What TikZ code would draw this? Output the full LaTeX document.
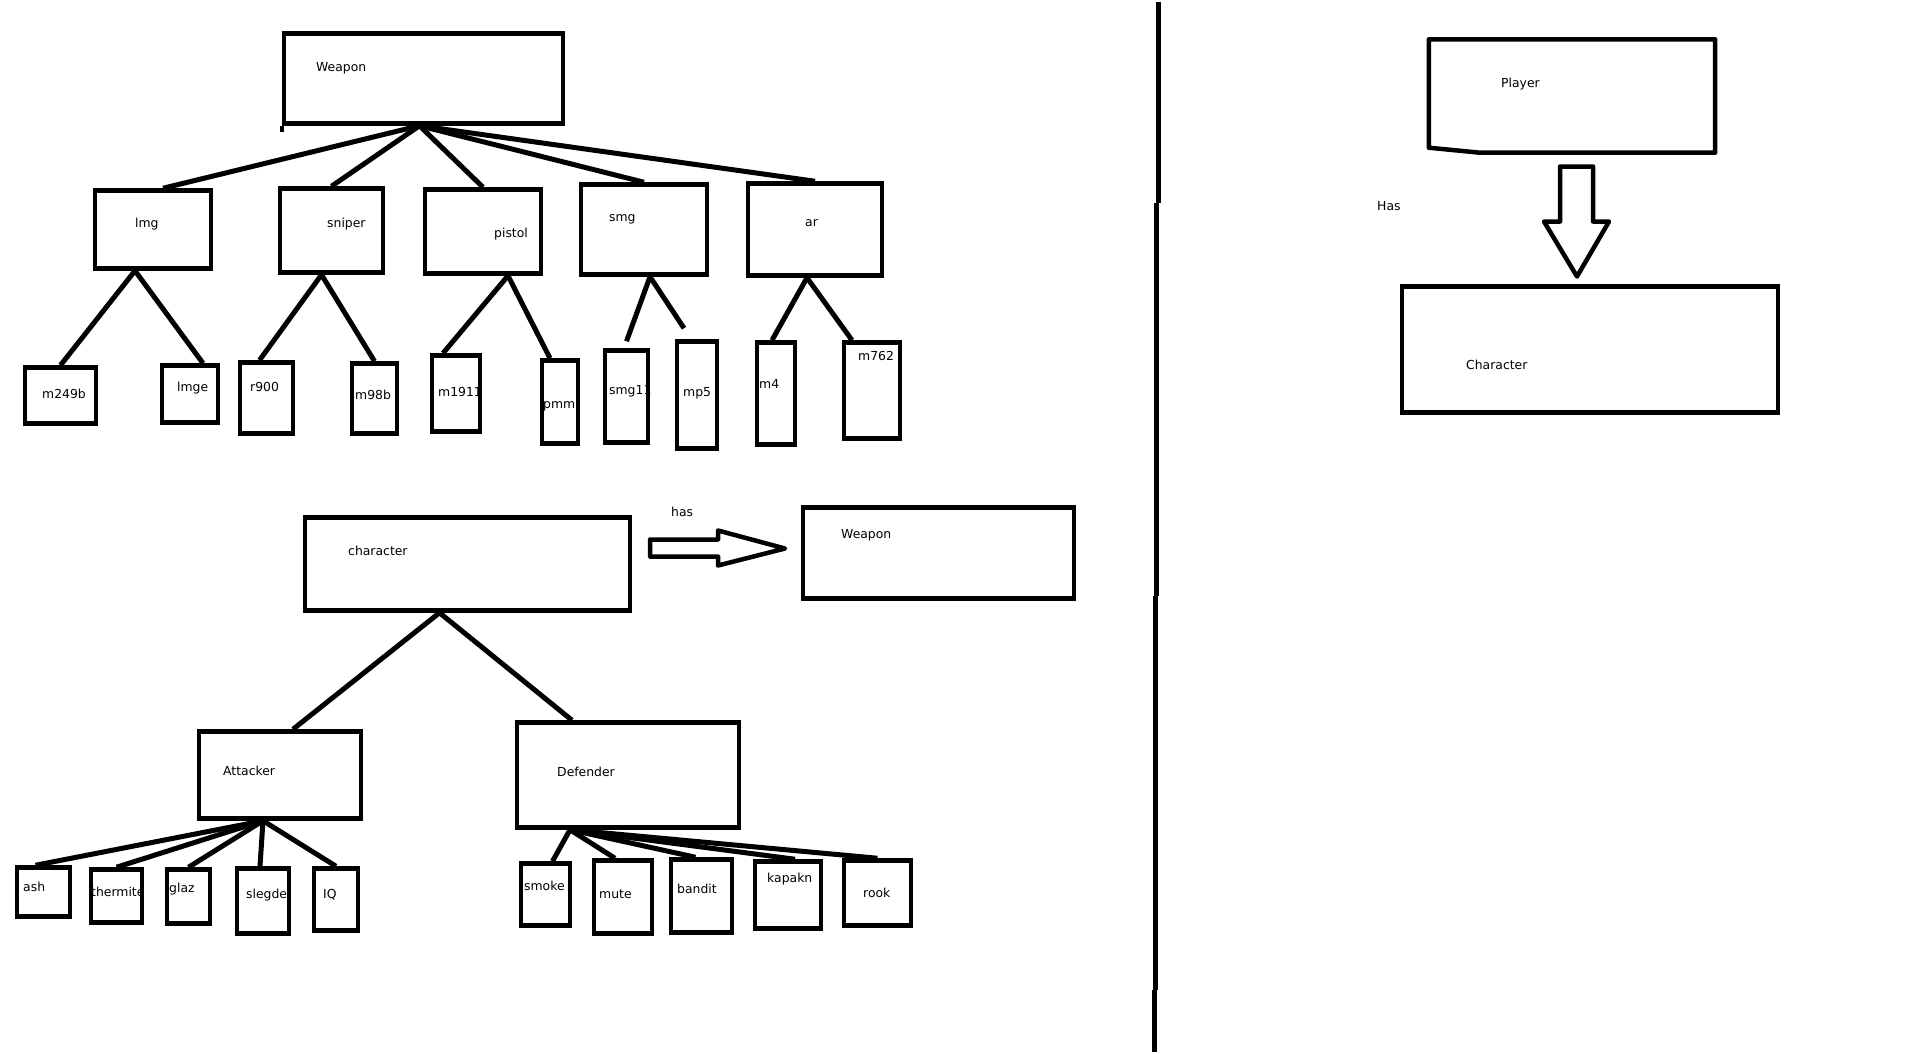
\documentclass[tikz,border=0pt]{standalone}
\usepackage{fontspec}
\setmainfont{DejaVu Sans}

\begin{document}
\begin{tikzpicture}[x=1pt, y=-1pt,
  box/.style={draw, line width=4.5pt, inner sep=0pt},
  link/.style={line width=5pt},
  bigarrow/.style={line width=4.5pt, line join=round},
  lbl/.style={anchor=west, inner sep=0pt, font=\fontsize{12.4}{14}\selectfont}]
% Page
\fill[white] (0,0) rectangle (1914,1049);
% Draw weapon tree boxes
\node[box, minimum width=279, minimum height=90] (weapon) at (423.5,76) {};
\node[box, minimum width=116, minimum height=78] (lmg) at (153,227) {};
\node[box, minimum width=103, minimum height=84] (sniper) at (331.5,228) {};
\node[box, minimum width=116, minimum height=84] (pistol) at (483,229) {};
\node[box, minimum width=126, minimum height=90] (smg) at (644,227) {};
\node[box, minimum width=134, minimum height=92] (ar) at (815,227) {};
\node[box, minimum width=71, minimum height=56] (m249b) at (60.5,393) {};
\node[box, minimum width=56, minimum height=57] (lmge) at (190,391.5) {};
\node[box, minimum width=53, minimum height=71] (r900) at (266.5,395.5) {};
\node[box, minimum width=45, minimum height=70] (m98b) at (374.5,396) {};
\node[box, minimum width=48, minimum height=76] (m1911) at (456,391) {};
\node[box, minimum width=36, minimum height=83] (pmm) at (560,399.5) {};
\node[box, minimum width=43, minimum height=92] (smg11) at (626.5,394) {};
\node[box, minimum width=40, minimum height=107] (mp5) at (697,392.5) {};
\node[box, minimum width=38, minimum height=102] (m4) at (776,391) {};
\node[box, minimum width=56, minimum height=96] (m762) at (872,388) {};
\draw[line width=4.5pt] (weapon.south west) -- ++(0,6);
% Draw weapon tree labels
\node[lbl] (weaponlbl) at (316,66) {Weapon};
\node[lbl] (lmglbl) at (135,222) {lmg};
\node[lbl] (sniperlbl) at (327,222) {sniper};
\node[lbl] (pistollbl) at (494,232) {pistol};
\node[lbl] (smglbl) at (609,217) {smg};
\node[lbl] (arlbl) at (805,221) {ar};
\node[lbl] (m249blbl) at (42,391) {m249b};
\node[lbl] (lmgelbl) at (177,386) {lmge};
\node[lbl] (r900lbl) at (250,384) {r900};
\node[lbl] (m98blbl) at (355,392) {m98b};
\node[lbl] (m1911lbl) at (438,389) {m1911};
\node[lbl] (pmmlbl) at (543,404) {pmm};
\node[lbl] (smg11lbl) at (609,389) {smg11};
\node[lbl] (mp5lbl) at (683,391) {mp5};
\node[lbl] (m4lbl) at (759,381) {m4};
\node[lbl] (m762lbl) at (858,353) {m762};
% Draw weapon tree links
\draw[link] ([xshift=-4]weapon.south) -- ([xshift=10]lmg.north);
\foreach \c in {sniper, pistol, smg, ar}
    \draw[link] ([xshift=-4]weapon.south) -- (\c.north);
\draw[link] ([xshift=-18]lmg.south) -- (m249b.north);
\draw[link] ([xshift=-18]lmg.south) -- ([xshift=13]lmge.north);
\draw[link] ([xshift=-10]sniper.south) -- ([xshift=-7]r900.north);
\draw[link] ([xshift=-10]sniper.south) -- (m98b.north);
\draw[link] ([xshift=25]pistol.south) -- ([xshift=-13]m1911.north);
\draw[link] ([xshift=25]pistol.south) -- ([xshift=-10]pmm.north);
\draw[link] ([xshift=6]smg.south) -- ([yshift=7]smg11.north);
\draw[link] ([xshift=6]smg.south) -- ([xshift=-13,yshift=11]mp5.north);
\draw[link] ([xshift=-8]ar.south) -- ([xshift=-4]m4.north);
\draw[link] ([xshift=-8]ar.south) -- ([xshift=-20]m762.north);
% Draw character tree boxes
\node[box, minimum width=325, minimum height=93] (character) at (467.5,561.5) {};
\node[box, minimum width=271, minimum height=91] (wpnb) at (938.5,550.5) {};
\node[box, minimum width=162, minimum height=87] (attacker) at (280,772.5) {};
\node[box, minimum width=222, minimum height=105] (defender) at (628,772.5) {};
\node[box, minimum width=53, minimum height=49] (ash) at (43.5,889.5) {};
\node[box, minimum width=51, minimum height=53] (thermite) at (116.5,893.5) {};
\node[box, minimum width=43, minimum height=54] (glaz) at (188.5,894) {};
\node[box, minimum width=52, minimum height=65] (slegde) at (263,898.5) {};
\node[box, minimum width=44, minimum height=62] (iq) at (336,897) {};
\node[box, minimum width=49, minimum height=62] (smoke) at (545.5,892) {};
\node[box, minimum width=58, minimum height=73] (mute) at (623,894.5) {};
\node[box, minimum width=61, minimum height=73] (bandit) at (701.5,893.5) {};
\node[box, minimum width=66, minimum height=67] (kapakn) at (788,892.5) {};
\node[box, minimum width=67, minimum height=65] (rook) at (877.5,890.5) {};
% Draw character tree labels
\node[lbl] (characterlbl) at (348,548) {character};
\node[lbl] (haslbl) at (671,509) {has};
\node[lbl] (wpnblbl) at (841,533) {Weapon};
\node[lbl] (attackerlbl) at (223,768) {Attacker};
\node[lbl] (defenderlbl) at (557,769) {Defender};
\node[lbl] (ashlbl) at (23,884) {ash};
\node[lbl] (thermitelbl) at (91,889) {thermite};
\node[lbl] (glazlbl) at (169,887) {glaz};
\node[lbl] (slegdelbl) at (246,893) {slegde};
\node[lbl] (iqlbl) at (323,892) {IQ};
\node[lbl] (smokelbl) at (524,883) {smoke};
\node[lbl] (mutelbl) at (599,892) {mute};
\node[lbl] (banditlbl) at (677,886) {bandit};
\node[lbl] (kapaknlbl) at (767,877) {kapakn};
\node[lbl] (rooklbl) at (863,890) {rook};
% Draw character tree links
\draw[link] ([xshift=-28]character.south) -- ([xshift=13]attacker.north);
\draw[link] ([xshift=-28]character.south) -- ([xshift=-56]defender.north);
\foreach \c/\s in {ash/-8, thermite/0, glaz/0, slegde/-3, iq/0}
    \draw[link] ([xshift=-17]attacker.south) -- ([xshift=\s]\c.north);
\foreach \c/\s in {smoke/7, mute/-8, bandit/-6, kapakn/7, rook/0}
    \draw[link] ([xshift=-58]defender.south) -- ([xshift=\s]\c.north);
% Draw has arrow
\draw[bigarrow] (650,537) -- (718,537) -- (718,528) -- (785,546) -- (718,563)
    -- (718,554) -- (650,554) -- cycle;
% Draw divider
\draw[line width=5pt] (1158,0) -- (1158,200) (1156,200) -- (1156,593)
    (1155,593) -- (1155,987) (1154,987) -- (1154,1049);
% Draw player side
\node[minimum width=286, minimum height=113, inner sep=0pt] (player) at (1572,93.5) {};
\draw[line width=4.5pt, line join=round] (player.north west) -- (player.north east)
    -- (player.south east) -- ([xshift=51]player.south west)
    -- ([yshift=5]player.south west) -- cycle;
\node[box, minimum width=376, minimum height=126] (charb) at (1590,347) {};
\node[lbl] (playerlbl) at (1501,82) {Player};
\node[lbl] (Haslbl) at (1377,204) {Has};
\node[lbl] (charblbl) at (1466,362) {Character};
\draw[bigarrow] (1560,164) -- (1593,164) -- (1593,219) -- (1609,219) -- (1577,274)
    -- (1544,219) -- (1560,219) -- cycle;
\end{tikzpicture}
\end{document}
